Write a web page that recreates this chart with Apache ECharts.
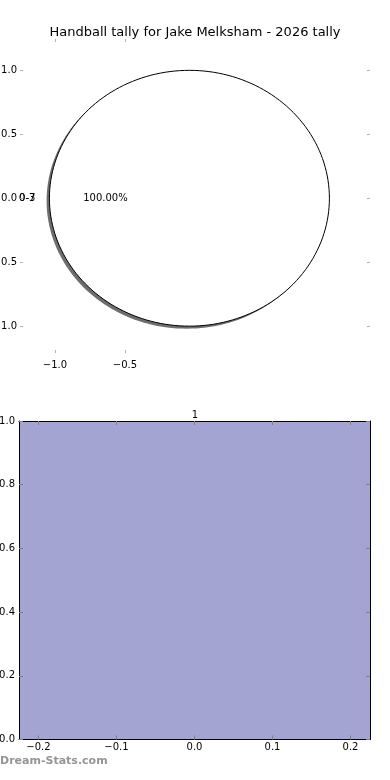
<!DOCTYPE html>
<html><head><meta charset="utf-8">
<script src="https://cdn.jsdelivr.net/npm/echarts@6/dist/echarts.min.js"></script>
<style>html,body{margin:0;padding:0;background:#fff}#c{width:390px;height:780px}</style>
</head><body><div id="c"></div>
<script>
const chartTitle = 'Handball tally for Jake Melksham - 2026 tally';
const pieLabels = ['0-3', '0-7'];
const pieValues = [1];
const pieTicksX = [-1.0, -0.5];
const pieTicksY = [-1.0, -0.5, 0.0, 0.5, 1.0];
const barCategories = ['1'];
const barPositions = [0];
const barValues = [1];
const barTicksX = [-0.2, -0.1, 0.0, 0.1, 0.2];
const barTicksY = [0, 0.2, 0.4, 0.6, 0.8, 1.0];
const watermark = 'Dream-Stats.com';

const FONT = 'DejaVu Sans';
const fmt1 = v => (v < 0 ? '\u2212' : '') + Math.abs(v).toFixed(1);
const total = pieValues.reduce((a, b) => a + b, 0);

const chart = echarts.init(document.getElementById('c'), null, {renderer: 'canvas'});

function pieItem(params, api) {
  const i = params.dataIndex;
  const cx = -0.04, cy = 0, r = 1;
  let before = 0;
  for (let k = 0; k < i; k++) before += pieValues[k];
  const f0 = before / total, f1 = (before + pieValues[i]) / total;
  const N = 180;
  const pts = [], sh = [];
  for (let k = 0; k <= N; k++) {
    const t = 2 * Math.PI * (f0 + (f1 - f0) * k / N);
    pts.push(api.coord([cx + r * Math.cos(t), cy + r * Math.sin(t)]));
    sh.push(api.coord([cx - 0.02 + r * Math.cos(t), cy - 0.02 + r * Math.sin(t)]));
  }
  if (f1 - f0 < 1) { pts.push(api.coord([cx, cy])); sh.push(api.coord([cx - 0.02, cy - 0.02])); }
  const mid = 2 * Math.PI * (f0 + f1) / 2;
  const pct = api.coord([cx + 0.6 * r * Math.cos(mid), cy + 0.6 * r * Math.sin(mid)]);
  const lab = api.coord([cx + 1.1 * r * Math.cos(mid), cy + 1.1 * r * Math.sin(mid)]);
  const children = [
    {type: 'polygon', shape: {points: sh}, style: {fill: '#6e6e6e', stroke: 'none'}},
    {type: 'polygon', shape: {points: pts}, style: {fill: '#ffffff', stroke: '#000000', lineWidth: 1}},
    {type: 'text', x: pct[0], y: pct[1], style: {text: (pieValues[i] / total * 100).toFixed(2) + '%', fill: '#000', fontSize: 10, fontFamily: FONT, align: 'center', verticalAlign: 'middle'}}
  ];
  const al = Math.cos(mid) < 0 ? 'right' : 'left';
  pieLabels.forEach(t => children.push({type: 'text', x: lab[0], y: lab[1], style: {text: t, fill: '#000', fontSize: 10, fontFamily: FONT, align: al, verticalAlign: 'middle'}}));
  return {type: 'group', children};
}

function barItem(params, api) {
  const x = api.value(0), v = api.value(1);
  const p0 = api.coord([x - 0.225, v]);
  const p1 = api.coord([x + 0.225, 0]);
  return {type: 'rect', shape: {x: p0[0], y: p0[1], width: p1[0] - p0[0], height: p1[1] - p0[1]}, style: {fill: '#a3a4d1', stroke: 'none'}};
}

const tickGray = {color: '#b0b0b0', width: 1};
const tickDark = {color: '#7f7f8f', width: 1};
const lab = (vals, margin) => ({customValues: vals, fontSize: 10, fontFamily: FONT, color: '#000', margin, formatter: fmt1});
const base = {type: 'value', z: 10, splitLine: {show: false}};
const frame = {show: true, onZero: false, lineStyle: {color: '#000', width: 1}};
const noLine = {show: false, onZero: false};

chart.setOption({
  animation: false,
  title: [
    {text: chartTitle, left: 'center', top: 21, textStyle: {fontSize: 13, fontWeight: 'normal', fontFamily: FONT, color: '#000'}},
    {text: barCategories[0], left: 'center', top: 405, textStyle: {fontSize: 10, fontWeight: 'normal', fontFamily: FONT, color: '#000'}}
  ],
  graphic: [{type: 'text', left: 0, top: 756, style: {text: watermark, fill: '#959595', fontSize: 11, fontWeight: 'bold', fontFamily: FONT}}],
  grid: [
    {left: 20, top: 39, width: 350, height: 314, containLabel: false, outerBoundsMode: 'none'},
    {left: 19, top: 421, width: 351, height: 318.5, containLabel: false, outerBoundsMode: 'none'}
  ],
  xAxis: [
    Object.assign({}, base, {gridIndex: 0, position: 'bottom', min: -1.25, max: 1.25, axisLine: noLine,
     axisTick: {inside: true, length: 3, lineStyle: tickGray, customValues: pieTicksX}, axisLabel: lab(pieTicksX, 7)}),
    Object.assign({}, base, {gridIndex: 0, position: 'top', min: -1.25, max: 1.25, axisLine: noLine,
     axisTick: {inside: true, length: 3, lineStyle: tickGray, customValues: pieTicksX}, axisLabel: {show: false}}),
    Object.assign({}, base, {gridIndex: 1, position: 'bottom', min: -0.225, max: 0.225, axisLine: frame,
     axisTick: {inside: true, length: 4, lineStyle: tickDark, customValues: barTicksX}, axisLabel: lab(barTicksX, 3)}),
    Object.assign({}, base, {gridIndex: 1, position: 'top', min: -0.225, max: 0.225, axisLine: frame,
     axisTick: {inside: true, length: 4, lineStyle: tickDark, customValues: barTicksX}, axisLabel: {show: false}})
  ],
  yAxis: [
    Object.assign({}, base, {gridIndex: 0, position: 'left', min: -1.21, max: 1.245, axisLine: noLine,
     axisTick: {inside: true, length: 3, lineStyle: tickGray, customValues: pieTicksY}, axisLabel: lab(pieTicksY, 3)}),
    Object.assign({}, base, {gridIndex: 0, position: 'right', min: -1.21, max: 1.245, axisLine: noLine,
     axisTick: {inside: true, length: 3, lineStyle: tickGray, customValues: pieTicksY}, axisLabel: {show: false}}),
    Object.assign({}, base, {gridIndex: 1, position: 'left', min: 0, max: 1, axisLine: frame,
     axisTick: {inside: true, length: 4, lineStyle: tickDark, customValues: barTicksY}, axisLabel: lab(barTicksY, 4)}),
    Object.assign({}, base, {gridIndex: 1, position: 'right', min: 0, max: 1, axisLine: frame,
     axisTick: {inside: true, length: 4, lineStyle: tickDark, customValues: barTicksY}, axisLabel: {show: false}})
  ],
  series: [
    {type: 'custom', xAxisIndex: 0, yAxisIndex: 0, clip: false, z: 1, renderItem: pieItem, data: pieValues.map((v, i) => [i, v]), encode: {x: -1, y: -1}, silent: true},
    {type: 'custom', xAxisIndex: 2, yAxisIndex: 2, clip: false, z: 1, renderItem: barItem, data: barValues.map((v, i) => [barPositions[i], v]), encode: {x: 0, y: 1}, silent: true}
  ]
});
</script></body></html>
